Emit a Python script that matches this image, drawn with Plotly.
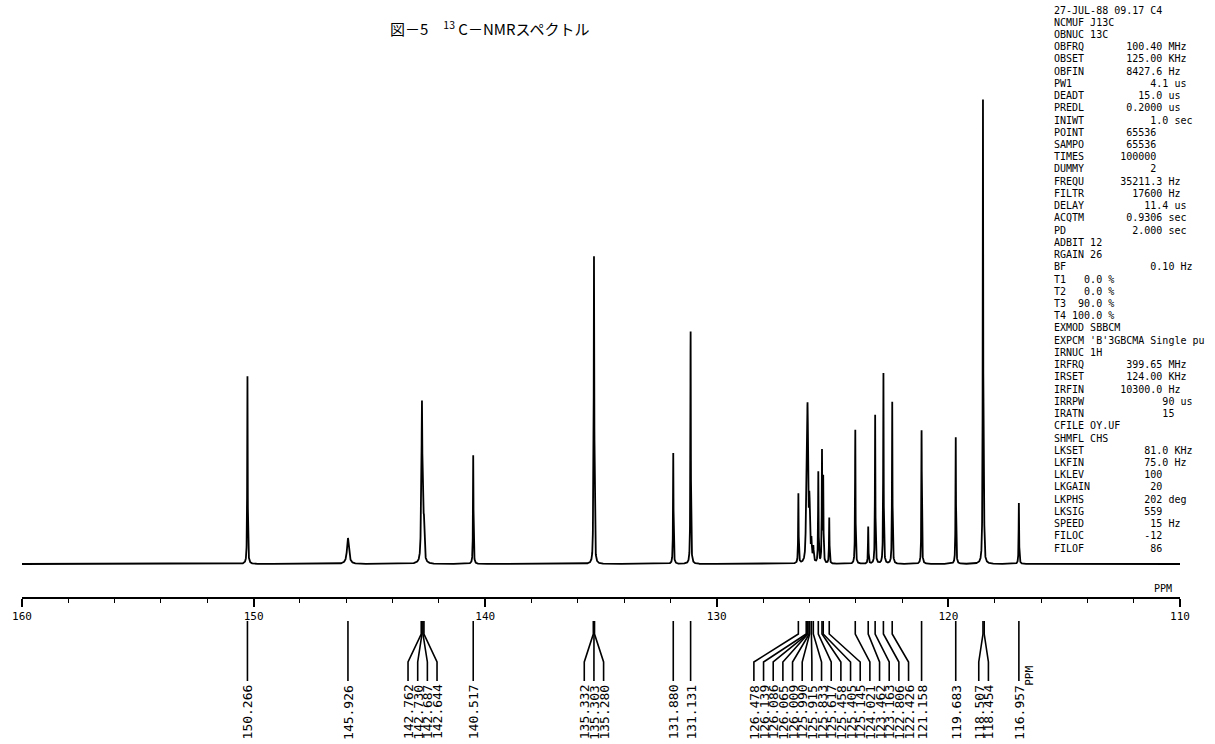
import numpy as np
import plotly.graph_objects as go

# ---------------- data ----------------
title_text = "図－5　<sup>13</sup> C－NMRスペクトル"

peak_ppm = [150.266, 145.926,
            142.762, 142.730, 142.687, 142.644,
            140.517,
            135.332, 135.303, 135.280,
            131.880, 131.131,
            126.478, 126.139, 126.086, 126.065, 126.009, 125.990, 125.915, 125.833,
            125.617, 125.458, 125.405, 125.145,
            124.021, 123.462, 123.163, 122.806, 122.426,
            121.158, 119.683, 118.507, 118.454, 116.957]
peak_height = [189, 26,
               40, 140, 60, 30,
               109,
               50, 290, 50,
               111, 234,
               70, 60, 120, 60, 40, 30, 20, 15,
               91, 110, 83, 46,
               135, 37, 149, 192, 163,
               134, 127, 464, 26, 61]
peak_hwhm = [0.012, 0.05,
             0.02, 0.02, 0.02, 0.02,
             0.012,
             0.012, 0.012, 0.012,
             0.012, 0.012,
             0.012, 0.02, 0.02, 0.02, 0.02, 0.02, 0.02, 0.02,
             0.012, 0.012, 0.012, 0.012,
             0.012, 0.012, 0.012, 0.012, 0.012,
             0.012, 0.012, 0.012, 0.012, 0.012]

x_ticks = [160, 150, 140, 130, 120, 110]
x_tick_labels = ["160", "150", "140", "130", "120", "110"]

param_lines = [
    "27-JUL-88 09.17 C4",
    "NCMUF J13C",
    "OBNUC 13C",
    "OBFRQ       100.40 MHz",
    "OBSET       125.00 KHz",
    "OBFIN       8427.6 Hz",
    "PW1             4.1 us",
    "DEADT         15.0 us",
    "PREDL       0.2000 us",
    "INIWT           1.0 sec",
    "POINT       65536",
    "SAMPO       65536",
    "TIMES      100000",
    "DUMMY           2",
    "FREQU      35211.3 Hz",
    "FILTR        17600 Hz",
    "DELAY          11.4 us",
    "ACQTM       0.9306 sec",
    "PD           2.000 sec",
    "ADBIT 12",
    "RGAIN 26",
    "BF              0.10 Hz",
    "T1   0.0 %",
    "T2   0.0 %",
    "T3  90.0 %",
    "T4 100.0 %",
    "EXMOD SBBCM",
    "EXPCM 'B'3GBCMA Single pu",
    "IRNUC 1H",
    "IRFRQ       399.65 MHz",
    "IRSET       124.00 KHz",
    "IRFIN      10300.0 Hz",
    "IRRPW             90 us",
    "IRATN             15",
    "CFILE OY.UF",
    "SHMFL CHS",
    "LKSET          81.0 KHz",
    "LKFIN          75.0 Hz",
    "LKLEV          100",
    "LKGAIN          20",
    "LKPHS          202 deg",
    "LKSIG          559",
    "SPEED           15 Hz",
    "FILOC          -12",
    "FILOF           86",
]

# ---------------- layout geometry (pixels) ----------------
W, H = 1215, 744
L, R, T, B = 18, 35, 90, 147
pw, ph = W - L - R, H - T - B
x_lo, x_hi = 160, 110
px_per_ppm = pw / (x_lo - x_hi)


def yp(py):
    return (H - B - py) / ph


def xp(px):
    return (px - L) / pw


# spectrum curve from peak list (Lorentzian line shapes)
grid = np.linspace(x_lo, x_hi, 20001)
spec = np.zeros_like(grid)
for p, h, w in zip(peak_ppm, peak_height, peak_hwhm):
    spec += h * w**2 / ((grid - p) ** 2 + w**2)

fig = go.Figure()
fig.add_trace(go.Scatter(x=grid, y=spec, mode="lines",
                         line=dict(color="black", width=1.8),
                         hoverinfo="skip", showlegend=False))

# ---------------- label placement (declutter) ----------------
min_gap = 9.7 / px_per_ppm
u = [x_lo - p for p in peak_ppm]  # increasing to the right
order = np.argsort(u)
groups = [[i] for i in order]


def group_pos(g):
    c = np.mean([u[i] for i in g])
    n = len(g)
    return [c + (k - (n - 1) / 2) * min_gap for k in range(n)]


changed = True
while changed:
    changed = False
    for k in range(len(groups) - 1):
        a, b = groups[k], groups[k + 1]
        if group_pos(b)[0] - group_pos(a)[-1] < min_gap - 1e-9:
            groups[k] = a + b
            del groups[k + 1]
            changed = True
            break

label_u = {}
for g in groups:
    for i, pos in zip(g, group_pos(g)):
        label_u[i] = pos

y_top, y_v, y_d, y_lab = 621, 634, 662, 681
shapes = []
annotations = []
for i, p in enumerate(peak_ppm):
    lx = x_lo - label_u[i]
    path = (f"M {p},{yp(y_top)} L {p},{yp(y_v)} L {lx},{yp(y_d)} L {lx},{yp(y_lab)}")
    shapes.append(dict(type="path", path=path, xref="x", yref="paper",
                       line=dict(color="black", width=1.6)))
    annotations.append(dict(x=lx, y=yp(712), xref="x", yref="paper",
                            text=f"{p:.3f}", textangle=-90, showarrow=False,
                            xanchor="center", yanchor="middle",
                            font=dict(family="DejaVu Sans Mono", size=13, color="black")))

# PPM beside the last label
annotations.append(dict(x=x_lo - label_u[len(peak_ppm) - 1] - 10 / px_per_ppm, y=yp(688),
                        xref="x", yref="paper", text="PPM", textangle=-90, showarrow=False,
                        font=dict(family="DejaVu Sans Mono", size=11, color="black")))

# title
annotations.append(dict(x=xp(487), y=yp(28), xref="paper", yref="paper", text=title_text,
                        showarrow=False, xanchor="center", yanchor="middle",
                        font=dict(family="Noto Sans CJK JP", size=15, color="black")))

# PPM axis caption
annotations.append(dict(x=xp(1163), y=yp(588), xref="paper", yref="paper", text="PPM",
                        showarrow=False, xanchor="center", yanchor="middle",
                        font=dict(family="DejaVu Sans Mono", size=10, color="black")))

# parameter listing
for k, line in enumerate(param_lines):
    annotations.append(dict(x=xp(1052), y=yp(10 + k * 12.23), xref="paper", yref="paper",
                            text=line.replace(" ", "&nbsp;"), showarrow=False,
                            xanchor="left", yanchor="middle",
                            font=dict(family="DejaVu Sans Mono", size=10, color="black")))

fig.update_layout(
    width=W, height=H,
    margin=dict(l=L, r=R, t=T, b=B),
    paper_bgcolor="white", plot_bgcolor="white",
    shapes=shapes, annotations=annotations,
    xaxis=dict(range=[x_lo, x_hi], autorange=False, showgrid=False, zeroline=False,
               showline=True, linecolor="black", linewidth=2,
               ticks="outside", ticklen=8, tickwidth=1.5, tickcolor="black",
               tickvals=x_ticks, ticktext=x_tick_labels,
               minor=dict(dtick=2, ticks="outside", ticklen=4, tickwidth=1.2, tickcolor="black"),
               tickfont=dict(family="DejaVu Sans Mono", size=11, color="black")),
    yaxis=dict(range=[-33, 474], autorange=False, visible=False),
    showlegend=False,
)

fig.write_html("out.html", config={"displayModeBar": False},
               post_script="document.body.style.margin='0px';document.body.style.overflow='hidden';")
